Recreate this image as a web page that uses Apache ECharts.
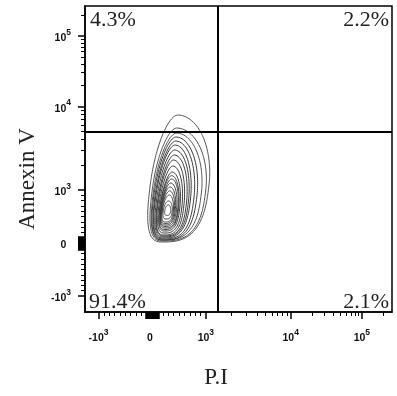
<!DOCTYPE html>
<html>
<head>
<meta charset="utf-8">
<script src="https://cdn.jsdelivr.net/npm/echarts@6/dist/echarts.min.js"></script>
<style>html,body{margin:0;padding:0;background:#fff}#c{width:397px;height:396px}</style>
</head>
<body>
<div id="c"></div>
<script>
// ---------- data ----------
const xTitle = 'P.I';
const yTitle = 'Annexin V';
const quadrantLabels = ['4.3%', '2.2%', '91.4%', '2.1%']; // UL, UR, LL, LR
const gatePI = 1400;        // vertical gate (P.I)
const gateAnnexin = 4900;   // horizontal gate (Annexin V)
const majorTickValues = [-1000, 0, 1000, 10000, 100000];
const majorTickLabels = ['-10^3', '0', '10^3', '10^4', '10^5'];
const nearZeroTickValues = [-120,-100,-90,-80,-70,-60,-50,-40,-30,-20,-10,10,20,30,40,50,60,70,80,90,100,120];
const minorTickValues = [-900,-800,-700,-600,-500,-400,-300,-200,
  200,300,400,500,600,700,800,900,
  2000,3000,4000,5000,6000,7000,8000,9000,
  20000,30000,40000,50000,60000,70000,80000,90000,200000];
// contour levels in logicle display units: [cx, cy, rxLeft, rxRight, ryTop, ryBottom]
const contourLevels = [
  [0.318, 1.094, 0.355, 0.740, 1.321, 1.075],
  [0.318, 1.000, 0.318, 0.680, 1.170, 0.962],
  [0.318, 0.943, 0.299, 0.598, 1.132, 0.887],
  [0.310, 0.887, 0.280, 0.523, 1.113, 0.830],
  [0.310, 0.849, 0.262, 0.467, 1.075, 0.774],
  [0.300, 0.811, 0.243, 0.411, 1.038, 0.717],
  [0.300, 0.774, 0.224, 0.374, 0.981, 0.660],
  [0.300, 0.736, 0.206, 0.336, 0.925, 0.604],
  [0.290, 0.698, 0.187, 0.299, 0.868, 0.547],
  [0.290, 0.679, 0.168, 0.262, 0.774, 0.491],
  [0.290, 0.660, 0.150, 0.224, 0.679, 0.434],
  [0.285, 0.650, 0.140, 0.205, 0.620, 0.395],
  [0.290, 0.642, 0.131, 0.187, 0.566, 0.358],
  [0.285, 0.632, 0.121, 0.168, 0.500, 0.320],
  [0.280, 0.623, 0.112, 0.150, 0.434, 0.283],
  [0.280, 0.613, 0.102, 0.131, 0.370, 0.245],
  [0.280, 0.604, 0.093, 0.112, 0.302, 0.208],
  [0.280, 0.604, 0.075, 0.093, 0.189, 0.151],
  [0.285, 0.610, 0.050, 0.060, 0.110, 0.090]
];
const contourSkew = 0.12;

// ---------- logicle-like display transform ----------
function toDisplay(v) {
  if (v <= 1000) return v / 1000;
  const L = Math.log10(v);
  if (L <= 4) return 1 + (L - 3) * 1.58;
  return 2.58 + (L - 4) * 1.326;
}
const xMin = -1.252, xMax = 4.467, yMin = -1.302, yMax = 4.472;

function labelFor(value) {
  for (let i = 0; i < majorTickValues.length; i++) {
    if (Math.abs(toDisplay(majorTickValues[i]) - value) < 1e-6) {
      const parts = majorTickLabels[i].split('^');
      return parts.length > 1 ? '{b|' + parts[0] + '}{s|' + parts[1] + '}' : '{b|' + parts[0] + '}{s|  }';
    }
  }
  return '';
}
const rich = {
  b: {fontFamily: 'Liberation Sans', fontWeight: 'bold', fontSize: 10.5, color: '#111', verticalAlign: 'bottom'},
  s: {fontFamily: 'Liberation Sans', fontWeight: 'bold', fontSize: 8.5, color: '#111', verticalAlign: 'bottom', padding: [0, 0, 7, 0]}
};
const majorDisp = majorTickValues.map(toDisplay);
const longTickDisp = majorDisp.concat(nearZeroTickValues.map(toDisplay));
const minorDisp = minorTickValues.map(toDisplay);

function makeAxes(isX, min, max) {
  const main = {
    type: 'value', min: min, max: max, gridIndex: 0,
    splitLine: {show: false},
    axisLine: {show: true, onZero: false, lineStyle: {color: '#000', width: 1.5}},
    axisTick: {show: true, inside: false, length: 7, customValues: longTickDisp, lineStyle: {color: '#000', width: 1.5}},
    axisLabel: {show: true, customValues: majorDisp, formatter: labelFor, rich: rich, margin: isX ? 16 : 14}
  };
  const minor = {
    type: 'value', min: min, max: max, gridIndex: 0,
    splitLine: {show: false},
    axisLine: {show: false, onZero: false},
    axisTick: {show: true, inside: false, length: 4, customValues: minorDisp, lineStyle: {color: '#000', width: 1}},
    axisLabel: {show: false}
  };
  if (isX) { main.position = 'bottom'; minor.position = 'bottom'; }
  else { main.position = 'left'; minor.position = 'left'; }
  return [main, minor];
}

const serif = 'Liberation Serif';
const chart = echarts.init(document.getElementById('c'), null, {renderer: 'canvas'});
const option = {
  animation: false,
  backgroundColor: '#fff',
  grid: {left: 85, right: 5, top: 6, bottom: 84, show: true, borderColor: '#000', borderWidth: 1.5, backgroundColor: 'transparent'},
  xAxis: makeAxes(true, xMin, xMax),
  yAxis: makeAxes(false, yMin, yMax),
  series: [
    {
      type: 'custom',
      xAxisIndex: 0, yAxisIndex: 0,
      clip: true,
      data: contourLevels,
      renderItem: function (params, api) {
        const cx = api.value(0), cy = api.value(1), rxL = api.value(2), rxR = api.value(3), ryT = api.value(4), ryB = api.value(5);
        const pts = [];
        const n = 90;
        for (let k = 0; k < n; k++) {
          const t = 2 * Math.PI * k / n;
          const c = Math.cos(t), s = Math.sin(t);
          const p = s > 0 ? 1.05 : 0.7;
          const ex = Math.sign(c) * Math.pow(Math.abs(c), p);
          const ey = Math.sign(s) * Math.pow(Math.abs(s), p);
          const dy = ey > 0 ? ey * ryT : ey * ryB;
          const dx = ex > 0 ? ex * rxR : ex * rxL;
          pts.push(api.coord([cx + dx + contourSkew * dy, cy + dy]));
        }
        const shade = params.dataIndex < 3 ? '#555' : '#3a3a3a';
        return {type: 'polygon', shape: {points: pts, smooth: 0.3}, style: {fill: null, stroke: shade, lineWidth: 1}};
      },
      z: 2
    },
    {
      type: 'line', xAxisIndex: 0, yAxisIndex: 0, data: [], silent: true,
      markLine: {
        silent: true, symbol: 'none', animation: false,
        label: {show: false},
        lineStyle: {color: '#000', width: 2, type: 'solid'},
        data: [{xAxis: toDisplay(gatePI)}, {yAxis: toDisplay(gateAnnexin)}]
      },
      z: 5
    }
  ],
  graphic: [
    {type: 'text', left: 90, top: 9, style: {text: quadrantLabels[0], fontFamily: serif, fontSize: 22, fill: '#222'}},
    {type: 'text', right: 8, top: 9, style: {text: quadrantLabels[1], fontFamily: serif, fontSize: 22, fill: '#222'}},
    {type: 'text', left: 89, top: 291, style: {text: quadrantLabels[2], fontFamily: serif, fontSize: 22, fill: '#222'}},
    {type: 'text', right: 8, top: 291, style: {text: quadrantLabels[3], fontFamily: serif, fontSize: 22, fill: '#222'}},
    {type: 'text', x: 216, y: 378, style: {text: xTitle, fontFamily: serif, fontSize: 23, fill: '#222', align: 'center', verticalAlign: 'middle'}},
    {type: 'text', x: 28, y: 179, rotation: Math.PI / 2, style: {text: yTitle, fontFamily: serif, fontSize: 23, fill: '#222', align: 'center', verticalAlign: 'middle'}}
  ]
};
chart.setOption(option);
</script>
</body>
</html>
